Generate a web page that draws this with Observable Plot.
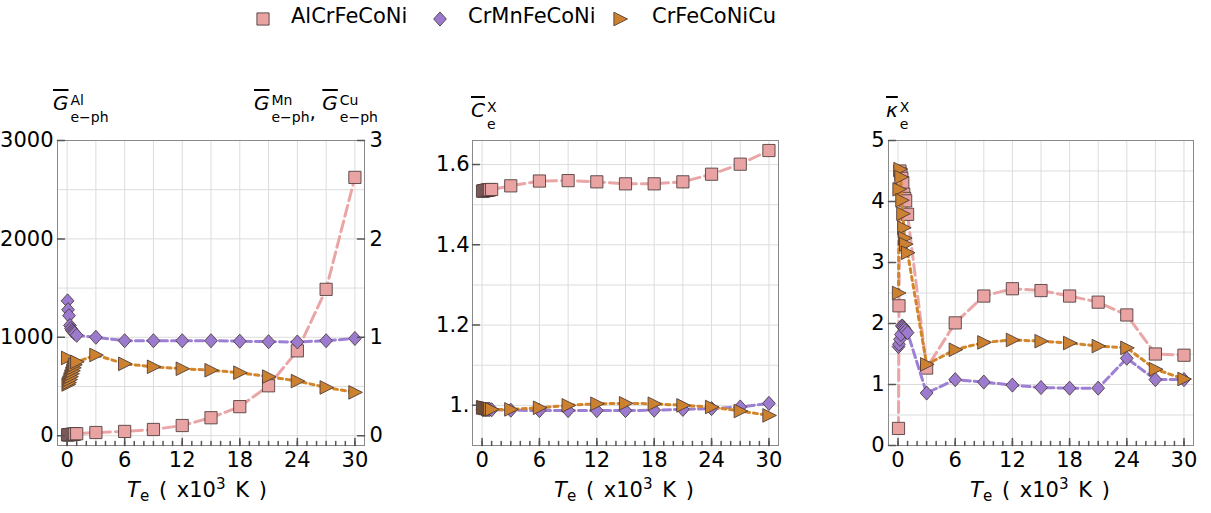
<!DOCTYPE html>
<html><head><meta charset="utf-8">
<script src="https://cdn.jsdelivr.net/npm/d3@7"></script>
<script src="https://cdn.jsdelivr.net/npm/@observablehq/plot@0.6"></script>
<style>
html,body{margin:0;padding:0;background:#fff}
body{font-family:"DejaVu Sans",sans-serif;color:#000}
#wrap{position:relative;width:1211px;height:513px;overflow:hidden}
.panel{position:absolute;top:0}
.lab{position:absolute;white-space:nowrap;line-height:1;font-size:20px;z-index:2}
.ov{font-style:italic;text-decoration:overline;text-decoration-thickness:1.5px}
.st{display:inline-flex;flex-direction:column;font-size:14px;line-height:17px;vertical-align:5px;margin-left:2px}
.xt{position:absolute;white-space:nowrap;line-height:1;font-size:21px;word-spacing:3px;transform:translateX(-50%);z-index:2}
.xt sub{font-size:0.72em;vertical-align:-0.3em}
.xt sup{font-size:0.72em;vertical-align:0.5em}
.leg{position:absolute;top:4px;font-size:21px;line-height:24px;white-space:nowrap;z-index:2}
</style></head>
<body><div id="wrap"></div>
<script>
// ---------- data ----------
const Te = [0.05,0.1,0.2,0.3,0.4,0.5,0.6,0.7,0.8,1,3,6,9,12,15,18,21,24,27,30];
const seriesNames = ["AlCrFeCoNi","CrMnFeCoNi","CrFeCoNiCu"];
const G_Al = [8,9,10,11,12,13,14,15,16,20,32,43,63,103,182,295,507,862,1487,2625];
const G_Mn = [1.37,1.28,1.22,1.12,1.09,1.07,1.06,1.05,1.04,1.02,1.0,0.965,0.965,0.965,0.965,0.96,0.955,0.952,0.965,0.988];
const G_Cu = [0.79,0.52,0.54,0.57,0.60,0.63,0.66,0.69,0.72,0.75,0.82,0.73,0.70,0.68,0.665,0.64,0.60,0.555,0.49,0.44];
const C_Al = [1.534,1.534,1.535,1.535,1.536,1.536,1.537,1.537,1.537,1.538,1.547,1.559,1.560,1.557,1.552,1.552,1.557,1.576,1.601,1.635];
const C_Mn = [0.990,0.990,0.990,0.990,0.990,0.990,0.990,0.990,0.990,0.989,0.988,0.987,0.987,0.987,0.987,0.988,0.990,0.992,0.996,1.005];
const C_Cu = [0.995,0.995,0.994,0.994,0.993,0.993,0.992,0.992,0.991,0.990,0.990,0.994,1.000,1.004,1.005,1.004,1.000,0.996,0.986,0.975];
const K_Al = [0.28,2.29,4.50,4.45,4.38,4.31,4.12,4.05,4.01,3.79,1.27,2.01,2.45,2.57,2.54,2.45,2.35,2.14,1.50,1.48];
const K_Mn = [1.62,1.66,1.74,1.82,1.96,1.95,1.93,1.91,1.88,1.85,0.86,1.08,1.04,0.99,0.95,0.94,0.94,1.43,1.08,1.08];
const K_Cu = [2.50,4.20,4.53,4.40,4.02,3.80,3.57,3.40,3.30,3.16,1.33,1.57,1.69,1.73,1.71,1.68,1.63,1.60,1.25,1.09];

const xTicks = [0,6,12,18,24,30];
const xGrid = [0,3,6,9,12,15,18,21,24,27,30];
const xMinor = d3.range(0,31,1);
const gLeftTicks = [0,1000,2000,3000];
const gRatio = 1000; // right axis unit relative to left axis
const gGrid = [0,500,1000,1500,2000,2500,3000];
const cTicks = [1.0,1.2,1.4,1.6];
const cGrid = [1.0,1.1,1.2,1.3,1.4,1.5,1.6];
const kTicks = [0,1,2,3,4,5];
const kGrid = [0,0.5,1,1.5,2,2.5,3,3.5,4,4.5,5];

// ---------- styles ----------
const fills = ["#e9a3a3","#9c7bcf","#cb8130"];
const lineColors = ["#eaa6a6","#9d80d4","#d3852a"];
const dashes = ["11,5","8,4","4,4"];
const markStroke = "#4a3838";

const squareSym = {draw(ctx, size){const r=Math.sqrt(size/Math.PI); ctx.moveTo(-r,-r); ctx.lineTo(r,-r); ctx.lineTo(r,r); ctx.lineTo(-r,r); ctx.closePath();}};
const diamondSym = {draw(ctx, size){const r=Math.sqrt(size/Math.PI); ctx.moveTo(0,-r*1.1); ctx.lineTo(r,0); ctx.lineTo(0,r*1.1); ctx.lineTo(-r,0); ctx.closePath();}};
const triSym = {draw(ctx, size){const r=Math.sqrt(size/Math.PI); ctx.moveTo(r*1.1,0); ctx.lineTo(-r*0.9,r); ctx.lineTo(-r*0.9,-r); ctx.closePath();}};
const symbols = [squareSym, diamondSym, triSym];
const symR = [6.1, 6.4, 6.8];
const tickShape = {draw(ctx, l){ctx.moveTo(0,0); ctx.lineTo(0,-l);}};

const wrap = document.getElementById("wrap");

function seriesMarks(rowsList){
  const m = [];
  rowsList.forEach((rows, s) => {
    m.push(Plot.line(rows, {x:"x", y:"y", stroke: lineColors[s], strokeWidth: 3, strokeDasharray: dashes[s]}));
    m.push(Plot.dot(rows, {x:"x", y:"y", symbol: symbols[s], r: symR[s], fill: fills[s], stroke: markStroke, strokeWidth: 1, strokeOpacity: 0.85}));
  });
  return m;
}

function makePanel({left, width, ml, mr, yDomain, rowsList, yTicks, yFmt, gridY, right, pad = 5}){
  const marks = [
    Plot.gridX(xGrid, {stroke:"#dcdcdc", strokeOpacity:1}),
    Plot.gridY(gridY, {stroke:"#dcdcdc", strokeOpacity:1}),
    ...seriesMarks(rowsList),
    Plot.frame({stroke:"#8a8a8a"}),
    Plot.vector(xMinor, {x: d=>d, frameAnchor:"bottom", rotate:0, length:4, anchor:"start", shape: tickShape, stroke:"#555"}),
    Plot.vector(xTicks, {x: d=>d, frameAnchor:"bottom", rotate:0, length:7, anchor:"start", shape: tickShape, stroke:"#555"}),
    Plot.vector(yTicks, {y: d=>d, frameAnchor:"left", rotate:90, length:7, anchor:"start", shape: tickShape, stroke:"#555"}),
    Plot.axisX({ticks: xTicks, tickSize:0, tickPadding:7, tickFormat: d=>String(d), label:null}),
    Plot.axisY({ticks: yTicks, tickSize:0, tickPadding:pad, tickFormat: yFmt, label:null, anchor:"left"})
  ];
  if (right) {
    marks.push(Plot.vector(right.ticks, {y: d=>d, frameAnchor:"right", rotate:-90, length:7, anchor:"start", shape: tickShape, stroke:"#555"}));
    marks.push(Plot.axisY({ticks: right.ticks, tickSize:0, tickPadding:5, tickFormat: right.fmt, label:null, anchor:"right"}));
  }
  const p = Plot.plot({
    width, height: 513,
    marginLeft: ml, marginRight: mr, marginTop: 140, marginBottom: 68,
    x: {domain: [-1, 31]},
    y: {domain: yDomain},
    style: {fontFamily: "DejaVu Sans", fontSize: "21px", color: "#000", background: "none", overflow: "visible"},
    marks
  });
  p.classList.add("panel");
  p.style.left = left + "px";
  wrap.appendChild(p);
}

const toRows = (vals, k=1) => Te.map((x,i) => ({x, y: vals[i]*k}));

makePanel({left:0, width:410, ml:57, mr:46, yDomain:[-100,3000],
  rowsList:[toRows(G_Al), toRows(G_Mn, gRatio), toRows(G_Cu, gRatio)],
  yTicks: gLeftTicks, yFmt: d=>String(d), gridY: gGrid,
  right: {ticks: gLeftTicks, fmt: d => String(d/gRatio)}, pad: 4});

makePanel({left:410, width:400, ml:62, mr:32, yDomain:[0.9,1.66],
  rowsList:[toRows(C_Al), toRows(C_Mn), toRows(C_Cu)],
  yTicks: cTicks, yFmt: d => (d===1 ? "1." : d.toFixed(1)), gridY: cGrid, pad: 3});

makePanel({left:820, width:391, ml:68, mr:18, yDomain:[0,5],
  rowsList:[toRows(K_Al), toRows(K_Mn), toRows(K_Cu)],
  yTicks: kTicks, yFmt: d=>String(d), gridY: kGrid, pad: 4});

// ---------- labels ----------
function addHTML(html){ const d = document.createElement("div"); d.innerHTML = html; while (d.firstChild) wrap.appendChild(d.firstChild); }
addHTML(`<div class="lab" style="left:53px;top:92px"><span class="ov">G</span><span class="st"><span>Al</span><span>e−ph</span></span></div>`);
addHTML(`<div class="lab" style="left:254px;top:92px"><span class="ov">G</span><span class="st"><span>Mn</span><span>e−ph</span></span><span style="vertical-align:-9px">,</span> <span class="ov">G</span><span class="st"><span>Cu</span><span>e−ph</span></span></div>`);
addHTML(`<div class="lab" style="left:471px;top:99px"><span class="ov">C</span><span class="st"><span>X</span><span>e</span></span></div>`);
addHTML(`<div class="lab" style="left:886px;top:99px"><span class="ov">κ</span><span class="st"><span>X</span><span>e</span></span></div>`);
[197, 624, 1040].forEach(cx => addHTML(`<div class="xt" style="left:${cx}px;top:477px"><i>T</i><sub>e</sub> ( x10<sup>3</sup> K )</div>`));

// ---------- legend ----------
const legX = [[263,291],[440,468],[620,652]];
seriesNames.forEach((name, s) => {
  const svg = d3.create("svg").attr("width",20).attr("height",20)
    .style("position","absolute").style("left",(legX[s][0]-10)+"px").style("top","9px");
  svg.append("path").attr("transform","translate(10,10)")
    .attr("d", d3.symbol(symbols[s], Math.PI*symR[s]*symR[s])())
    .attr("fill", fills[s]).attr("stroke", markStroke).attr("stroke-opacity",0.85);
  wrap.appendChild(svg.node());
  addHTML(`<div class="leg" style="left:${legX[s][1]}px">${name}</div>`);
});
</script>
</body></html>
